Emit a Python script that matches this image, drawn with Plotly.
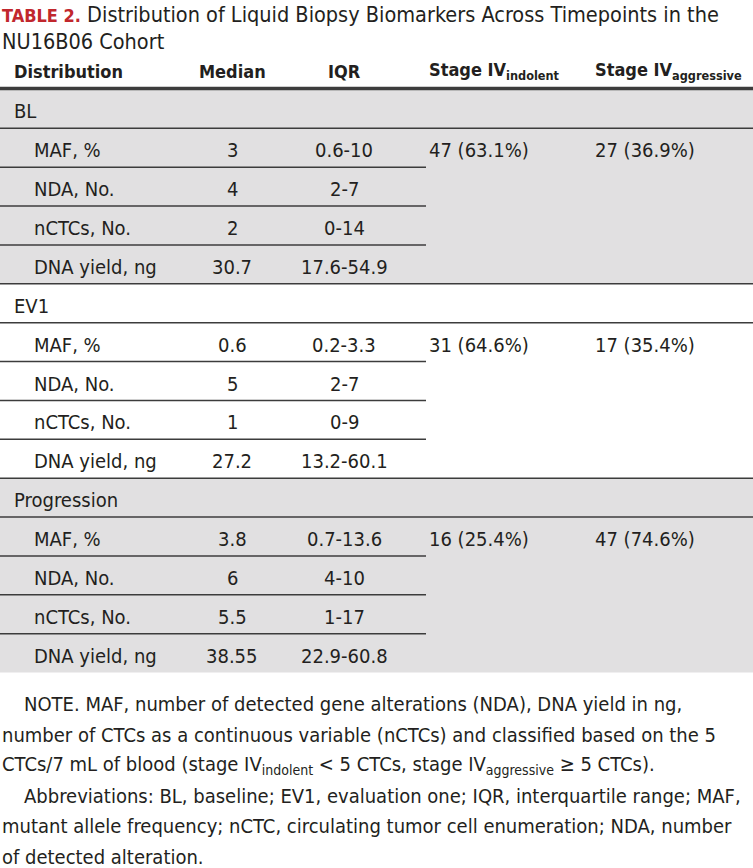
import plotly.graph_objects as go

# ---------------- data ----------------
title_label = "TABLE 2."
title_text = ["Distribution of Liquid Biopsy Biomarkers Across Timepoints in the",
              "NU16B06 Cohort"]
headers = ["Distribution", "Median", "IQR",
           "Stage IV<sub>indolent</sub>", "Stage IV<sub>aggressive</sub>"]
sections = ["BL", "EV1", "Progression"]
measures = ["MAF, %", "NDA, No.", "nCTCs, No.", "DNA yield, ng"]
medians = [["3", "4", "2", "30.7"],
           ["0.6", "5", "1", "27.2"],
           ["3.8", "6", "5.5", "38.55"]]
iqrs = [["0.6-10", "2-7", "0-14", "17.6-54.9"],
        ["0.2-3.3", "2-7", "0-9", "13.2-60.1"],
        ["0.7-13.6", "4-10", "1-17", "22.9-60.8"]]
indolent = ["47 (63.1%)", "31 (64.6%)", "16 (25.4%)"]
aggressive = ["27 (36.9%)", "17 (35.4%)", "47 (74.6%)"]
notes = [
    ("NOTE. MAF, number of detected gene alterations (NDA), DNA yield in ng,", 22),
    ("number of CTCs as a continuous variable (nCTCs) and classified based on the 5", 0),
    ("CTCs/7 mL of blood (stage IV<sub>indolent</sub> &lt; 5 CTCs, stage IV<sub>aggressive</sub> ≥ 5 CTCs).", 0),
    ("Abbreviations: BL, baseline; EV1, evaluation one; IQR, interquartile range; MAF,", 22),
    ("mutant allele frequency; nCTC, circulating tumor cell enumeration; NDA, number", 0),
    ("of detected alteration.", 0),
]

# ---------------- layout constants ----------------
W, H = 753, 868
FONT = "Liberation Sans Narrow, DejaVu Sans Condensed, Arial Narrow, sans-serif"
TXT = "#231f20"
GREY = "#e1e0e1"
LINE = "#3c3c3c"
RED = "#c1272d"
FS = 20
FS_HEAD = 18
FS_NOTE = 20
table_top = 89.5
row_h = 38.87
text_dy = 2.5
col_x = {"label": 12, "indent": 32, "median": 232, "iqr": 344, "ind": 427, "agg": 593}
partial_end = 426

fig = go.Figure()
shapes = []
ann = []


def add_text(x, y, text, anchor="left", size=FS, color=TXT, bold=False):
    ann.append(dict(x=x, y=y, xref="x", yref="y", text=(f"<b>{text}</b>" if bold else text),
                    showarrow=False, xanchor=anchor, yanchor="middle",
                    font=dict(family=FONT, size=size, color=color)))


# title
ann.append(dict(x=0, y=14, xref="x", yref="y",
                text=(f"<span style='color:{RED};font-size:18px'><b>{title_label}</b></span> "
                      f"{title_text[0]}"),
                showarrow=False, xanchor="left", yanchor="middle",
                font=dict(family=FONT, size=21.5, color=TXT)))
add_text(0, 41, title_text[1], size=21.5)

# header
hy = 71
add_text(col_x["label"], hy, headers[0], size=FS_HEAD, bold=True)
add_text(col_x["median"], hy, headers[1], anchor="center", size=FS_HEAD, bold=True)
add_text(col_x["iqr"], hy, headers[2], anchor="center", size=FS_HEAD, bold=True)
add_text(col_x["ind"], hy, headers[3], size=FS_HEAD, bold=True)
add_text(col_x["agg"], hy, headers[4], size=FS_HEAD, bold=True)

row = 0
for s, sec in enumerate(sections):
    sec_top = table_top + row * row_h
    sec_bot = table_top + (row + 1 + len(measures)) * row_h
    if s != 1:
        shapes.append(dict(type="rect", xref="x", yref="y", x0=0, x1=W, y0=sec_top, y1=sec_bot,
                           fillcolor=GREY, line=dict(width=0), layer="below"))
    add_text(col_x["label"], sec_top + row_h / 2 + text_dy, sec)
    yl = sec_top + row_h
    shapes.append(dict(type="line", xref="x", yref="y", x0=0, x1=W, y0=yl, y1=yl,
                       line=dict(color=LINE, width=1.5)))
    for m, meas in enumerate(measures):
        rt = sec_top + (m + 1) * row_h
        cy = rt + row_h / 2 + text_dy
        add_text(col_x["indent"], cy, meas)
        add_text(col_x["median"], cy, medians[s][m], anchor="center")
        add_text(col_x["iqr"], cy, iqrs[s][m], anchor="center")
        if m == 0:
            add_text(col_x["ind"], cy, indolent[s])
            add_text(col_x["agg"], cy, aggressive[s])
        if m < len(measures) - 1:
            yb = rt + row_h
            shapes.append(dict(type="line", xref="x", yref="y", x0=0, x1=partial_end, y0=yb, y1=yb,
                               line=dict(color=LINE, width=1.5)))
    if s < len(sections) - 1:
        shapes.append(dict(type="line", xref="x", yref="y", x0=0, x1=W, y0=sec_bot, y1=sec_bot,
                           line=dict(color=LINE, width=1.5)))
    row += 1 + len(measures)

shapes.append(dict(type="line", xref="x", yref="y", x0=0, x1=W, y0=table_top - 1, y1=table_top - 1,
                   line=dict(color=LINE, width=3.5)))

ny0, nstep = 704, 30.5
for i, (t, x) in enumerate(notes):
    add_text(x, ny0 + i * nstep, t, size=FS_NOTE)

fig.update_layout(
    width=W, height=H, margin=dict(l=0, r=0, t=0, b=0),
    paper_bgcolor="white", plot_bgcolor="white",
    xaxis=dict(range=[0, W], visible=False, fixedrange=True),
    yaxis=dict(range=[H, 0], visible=False, fixedrange=True),
    shapes=shapes, annotations=ann, showlegend=False,
)
fig.write_html("out.html", config={"displayModeBar": False},
               post_script="document.body.style.margin='0';document.body.style.overflow='hidden';")
